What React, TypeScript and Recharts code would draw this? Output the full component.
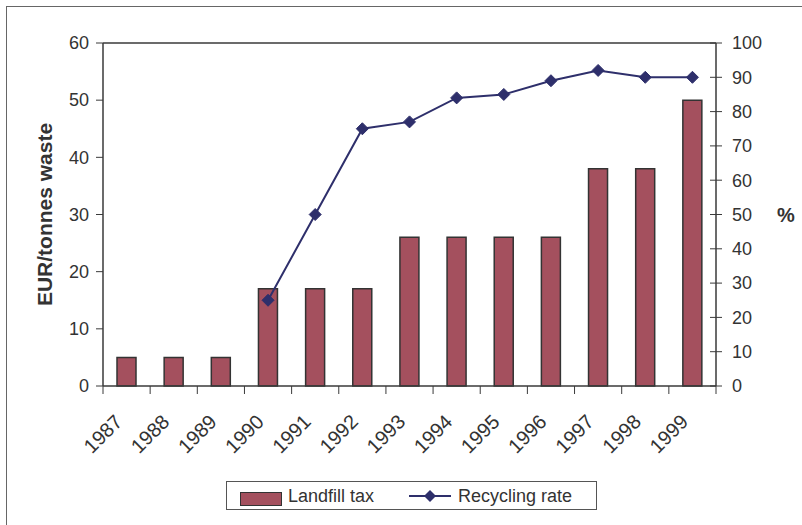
import {
  Bar,
  ComposedChart,
  Line,
  ReferenceLine,
  XAxis,
  YAxis,
} from "recharts";

const years = ["1987", "1988", "1989", "1990", "1991", "1992", "1993", "1994", "1995", "1996", "1997", "1998", "1999"];
const landfillTax = [5, 5, 5, 17, 17, 17, 26, 26, 26, 26, 38, 38, 50];
const recyclingRate = [null, null, null, 25, 50, 75, 77, 84, 85, 89, 92, 90, 90];
const leftTicks = [0, 10, 20, 30, 40, 50, 60];
const rightTicks = [0, 10, 20, 30, 40, 50, 60, 70, 80, 90, 100];

const data = years.map((year, i) => ({
  year,
  tax: landfillTax[i],
  rate: recyclingRate[i],
}));

const FONT = '"Liberation Sans", Arial, Helvetica, sans-serif';
const TEXT = "#333333";
const AXIS = "#3a3a3a";
const BAR_FILL = "#A4505E";
const LINE = "#2E2F6B";

const W = 802;
const H = 525;
const LEFT_W = 103;
const RIGHT_W = 86;
const STEP = (W - LEFT_W - RIGHT_W) / years.length;

function XTick(props: any) {
  const { x, y, payload, index } = props;
  const tx = x - 3;
  const ty = y + 37;
  return (
    <g>
      <line x1={x - STEP / 2} y1={y} x2={x - STEP / 2} y2={y + 8} stroke={AXIS} strokeWidth={1} />
      {index === years.length - 1 && (
        <line x1={x + STEP / 2} y1={y} x2={x + STEP / 2} y2={y + 8} stroke={AXIS} strokeWidth={1} />
      )}
      <text
        x={tx}
        y={ty}
        textAnchor="end"
        transform={`rotate(-45, ${tx}, ${ty})`}
        fontSize={20}
        fontFamily={FONT}
        fill={TEXT}
      >
        {payload.value}
      </text>
    </g>
  );
}

function LeftTick(props: any) {
  const { x, y, payload } = props;
  return (
    <g>
      <line x1={x - 7} y1={y} x2={x} y2={y} stroke={AXIS} strokeWidth={1} />
      <text x={x - 14} y={y} dy="0.35em" textAnchor="end" fontSize={18} fontFamily={FONT} fill={TEXT}>
        {payload.value}
      </text>
    </g>
  );
}

function RightTick(props: any) {
  const { x, y, payload } = props;
  return (
    <g>
      <line x1={x - 6} y1={y} x2={x + 6} y2={y} stroke={AXIS} strokeWidth={1} />
      <text x={x + 16} y={y} dy="0.35em" textAnchor="start" fontSize={18} fontFamily={FONT} fill={TEXT}>
        {payload.value}
      </text>
    </g>
  );
}

function Diamond(props: any) {
  const { cx, cy, payload } = props;
  if (payload.rate == null || cx == null || cy == null) return null;
  const r = 6;
  return (
    <polygon
      points={`${cx},${cy - r} ${cx + r},${cy} ${cx},${cy + r} ${cx - r},${cy}`}
      fill={LINE}
      stroke={LINE}
    />
  );
}

function LegendBox() {
  return (
    <div
      style={{
        position: "absolute",
        left: 226,
        top: 481,
        width: 369,
        height: 27,
        border: "1px solid #555",
        background: "#fff",
        fontFamily: FONT,
        fontSize: 18,
        color: TEXT,
      }}
    >
      <div
        style={{
          position: "absolute",
          left: 13,
          top: 10,
          width: 40,
          height: 12,
          background: BAR_FILL,
          border: "1.5px solid #333",
        }}
      />
      <span style={{ position: "absolute", left: 61, top: 3, lineHeight: "22px" }}>Landfill tax</span>
      <svg style={{ position: "absolute", left: 182, top: 6 }} width={42} height={16}>
        <line x1={0} y1={8} x2={42} y2={8} stroke={LINE} strokeWidth={2} />
        <polygon points="21,2 27,8 21,14 15,8" fill={LINE} />
      </svg>
      <span style={{ position: "absolute", left: 231, top: 3, lineHeight: "22px" }}>Recycling rate</span>
    </div>
  );
}

export default function App() {
  return (
    <div
      style={{
        position: "absolute",
        left: 0,
        top: 0,
        width: W,
        height: H,
        overflow: "hidden",
        background: "#fff",
      }}
    >
      <div
        style={{
          position: "absolute",
          left: 6,
          top: 6,
          width: W - 6,
          height: H - 6,
          borderTop: "1px solid #666",
          borderLeft: "1px solid #666",
          boxSizing: "border-box",
        }}
      />
      <div style={{ position: "absolute", left: 0, top: 0 }}>
        <ComposedChart
          width={W}
          height={H}
          data={data}
          margin={{ top: 43, right: 0, left: 0, bottom: 59 }}
          barSize={19}
        >
          <XAxis
            dataKey="year"
            height={80}
            tickSize={0}
            tickMargin={0}
            tick={<XTick />}
            interval={0}
            axisLine={{ stroke: AXIS, strokeWidth: 1.5 }}
          />
          <YAxis
            yAxisId="left"
            width={LEFT_W}
            domain={[0, 60]}
            ticks={leftTicks}
            tickSize={0}
            tickMargin={0}
            tick={<LeftTick />}
            axisLine={{ stroke: AXIS, strokeWidth: 1.5 }}
            label={{
              content: (p: any) => {
                const vb = p.viewBox || {};
                const cx = 44;
                const cy = (vb.y ?? 43) + (vb.height ?? 343) / 2;
                return (
                  <text
                    x={cx}
                    y={cy}
                    textAnchor="middle"
                    dominantBaseline="central"
                    transform={`rotate(-90, ${cx}, ${cy})`}
                    fontSize={21}
                    fontWeight="bold"
                    fontFamily={FONT}
                    fill={TEXT}
                  >
                    EUR/tonnes waste
                  </text>
                );
              },
            }}
          />
          <YAxis
            yAxisId="right"
            orientation="right"
            width={RIGHT_W}
            domain={[0, 100]}
            ticks={rightTicks}
            tickSize={0}
            tickMargin={0}
            tick={<RightTick />}
            axisLine={{ stroke: AXIS, strokeWidth: 1.5 }}
            label={{
              content: (p: any) => {
                const vb = p.viewBox || {};
                const cx = 786;
                const cy = (vb.y ?? 43) + (vb.height ?? 343) / 2;
                return (
                  <text
                    x={cx}
                    y={cy}
                    textAnchor="middle"
                    dominantBaseline="central"
                    fontSize={20}
                    fontWeight="bold"
                    fontFamily={FONT}
                    fill={TEXT}
                  >
                    %
                  </text>
                );
              },
            }}
          />
          <ReferenceLine yAxisId="left" y={60} stroke={AXIS} strokeWidth={1.5} />
          <Bar
            yAxisId="left"
            dataKey="tax"
            name="Landfill tax"
            fill={BAR_FILL}
            stroke="#333"
            strokeWidth={1.5}
            isAnimationActive={false}
          />
          <Line
            yAxisId="right"
            dataKey="rate"
            name="Recycling rate"
            type="linear"
            stroke={LINE}
            strokeWidth={2}
            dot={<Diamond />}
            activeDot={false}
            connectNulls={false}
            isAnimationActive={false}
          />
        </ComposedChart>
      </div>
      <LegendBox />
    </div>
  );
}
